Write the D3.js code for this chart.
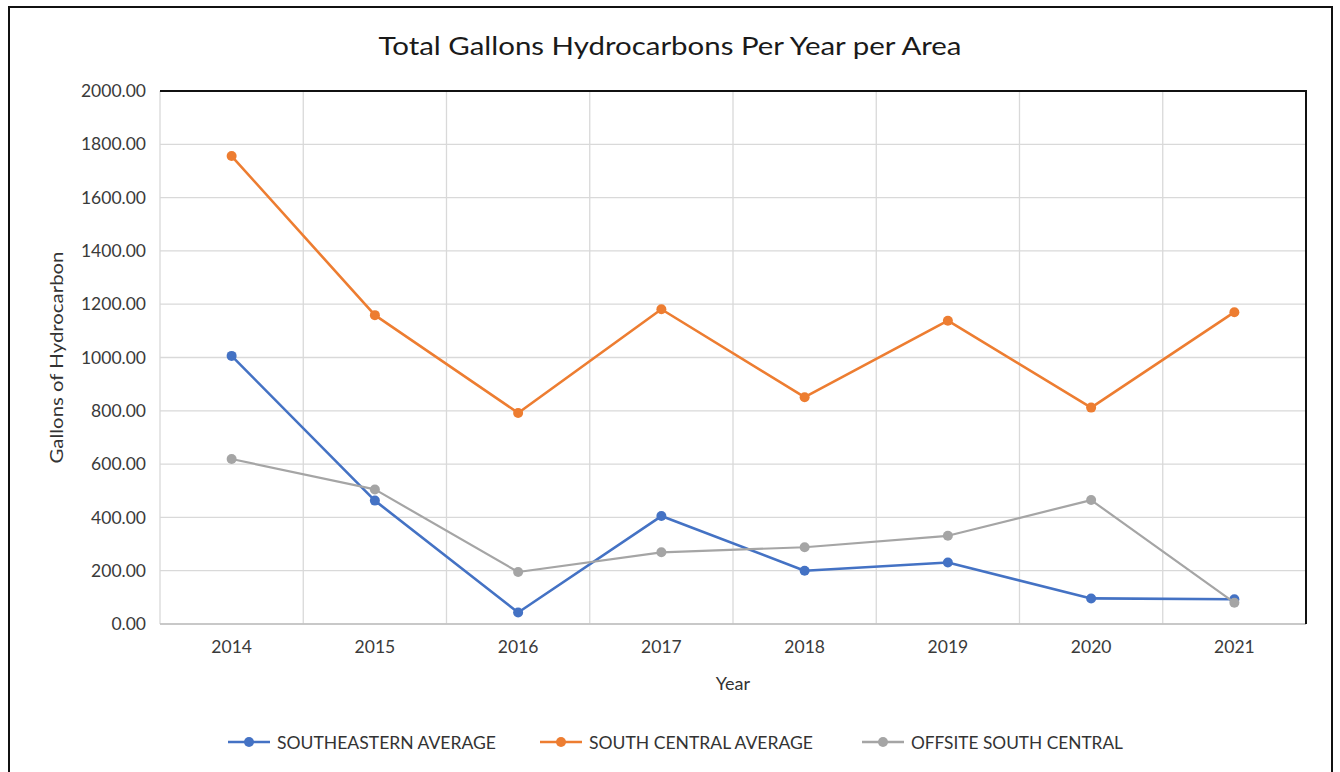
<!DOCTYPE html>
<html lang="en">
<head>
<meta charset="UTF-8">
<title>Total Gallons Hydrocarbons Per Year per Area</title>
<script src="https://cdn.jsdelivr.net/npm/d3@7"></script>
<style>
  html, body { margin: 0; padding: 0; background: #fff; }
  svg { display: block; font-family: Lato, "Open Sans", sans-serif; }
</style>
</head>
<body>
<svg id="chart" width="1340" height="772"></svg>
<script>
// data
var years = ["2014", "2015", "2016", "2017", "2018", "2019", "2020", "2021"];
var southeastern = [1006, 463, 43, 405, 200, 231, 96, 93];
var southCentral = [1756, 1159, 792, 1181, 851, 1138, 812, 1170];
var offsite = [619, 505, 195, 269, 288, 331, 465, 80];
var yTicks = [0, 200, 400, 600, 800, 1000, 1200, 1400, 1600, 1800, 2000];

var seriesNames = ["SOUTHEASTERN AVERAGE", "SOUTH CENTRAL AVERAGE", "OFFSITE SOUTH CENTRAL"];
var seriesValues = [southeastern, southCentral, offsite];
var colors = ["#4472c4", "#ed7d31", "#a5a5a5"];

var W = 1340, H = 772;
var plot = {left: 160, top: 91, right: 1306, bottom: 624};

var svg = d3.select("#chart");

// outer frame
svg.append("rect").attr("x", 0).attr("y", 0).attr("width", W).attr("height", H).attr("fill", "#fff");
svg.append("path")
    .attr("d", "M9,772 L9,7 L1332,7 L1332,772")
    .attr("fill", "none").attr("stroke", "#111").attr("stroke-width", 2);

var x = d3.scaleBand().domain(years).range([plot.left, plot.right]).padding(0);
var y = d3.scaleLinear().domain([0, 2000]).range([plot.bottom, plot.top]);

// horizontal grid
svg.append("g").selectAll("line").data(yTicks).enter().append("line")
    .attr("x1", plot.left).attr("x2", plot.right)
    .attr("y1", function (d) { return y(d); })
    .attr("y2", function (d) { return y(d); })
    .attr("stroke", "#d9d9d9").attr("stroke-width", 1.3);

// vertical grid at category boundaries
var bounds = years.map(function (d) { return x(d); }).concat([plot.right]);
svg.append("g").selectAll("line").data(bounds).enter().append("line")
    .attr("x1", function (d) { return d; }).attr("x2", function (d) { return d; })
    .attr("y1", plot.top).attr("y2", plot.bottom)
    .attr("stroke", "#d9d9d9").attr("stroke-width", 1.3);

// axis lines: bottom gray, top and right black
svg.append("line").attr("x1", plot.left).attr("x2", plot.right)
    .attr("y1", plot.bottom).attr("y2", plot.bottom)
    .attr("stroke", "#bfbfbf").attr("stroke-width", 1.5);
svg.append("path")
    .attr("d", "M" + plot.left + "," + plot.top + " L" + plot.right + "," + plot.top + " L" + plot.right + "," + plot.bottom)
    .attr("fill", "none").attr("stroke", "#111").attr("stroke-width", 2);

// y axis labels
var yAxis = d3.axisLeft(y).tickValues(yTicks).tickSize(0).tickPadding(14)
    .tickFormat(d3.format(".2f"));
var gy = svg.append("g").attr("transform", "translate(" + plot.left + ",0)").call(yAxis);
gy.select(".domain").remove();
gy.selectAll("text").attr("font-family", "Lato, sans-serif").attr("font-size", 17.5).attr("fill", "#3a3a3a");

// x axis labels
var xAxis = d3.axisBottom(x).tickSize(0).tickPadding(17);
var gx = svg.append("g").attr("transform", "translate(0," + plot.bottom + ")").call(xAxis);
gx.select(".domain").remove();
gx.selectAll("text").attr("font-family", "Lato, sans-serif").attr("font-size", 17.5).attr("fill", "#3a3a3a");

// titles
svg.append("text").attr("x", 670).attr("y", 55).attr("text-anchor", "middle")
    .attr("font-size", 25).attr("fill", "#1a1a1a")
    .attr("textLength", 583).attr("lengthAdjust", "spacingAndGlyphs")
    .text("Total Gallons Hydrocarbons Per Year per Area");

svg.append("text").attr("x", 733).attr("y", 690).attr("text-anchor", "middle")
    .attr("font-size", 18).attr("fill", "#333")
    .text("Year");

svg.append("text")
    .attr("transform", "translate(63," + ((plot.top + plot.bottom) / 2) + ") rotate(-90)")
    .attr("text-anchor", "middle")
    .attr("font-size", 17.5).attr("fill", "#333")
    .attr("textLength", 212).attr("lengthAdjust", "spacingAndGlyphs")
    .text("Gallons of Hydrocarbon");

// series
var line = d3.line()
    .x(function (d, i) { return x(years[i]) + x.bandwidth() / 2; })
    .y(function (d) { return y(d); });

seriesValues.forEach(function (vals, s) {
    var g = svg.append("g");
    g.append("path").datum(vals)
        .attr("d", line)
        .attr("fill", "none")
        .attr("stroke", colors[s])
        .attr("stroke-width", s === 2 ? 2.2 : 2.6)
        .attr("stroke-linejoin", "round");
    g.selectAll("circle").data(vals).enter().append("circle")
        .attr("cx", function (d, i) { return x(years[i]) + x.bandwidth() / 2; })
        .attr("cy", function (d) { return y(d); })
        .attr("r", 5)
        .attr("fill", colors[s]);
});

// legend
var legendX = [228, 540, 862];
var legendW = [219, 224, 212];
var legend = svg.append("g").selectAll("g").data(seriesNames).enter().append("g")
    .attr("transform", function (d, i) { return "translate(" + legendX[i] + ",742)"; });
legend.append("line").attr("x1", 0).attr("x2", 42).attr("y1", 0).attr("y2", 0)
    .attr("stroke", function (d, i) { return colors[i]; }).attr("stroke-width", 2.6);
legend.append("circle").attr("cx", 21).attr("cy", 0).attr("r", 5)
    .attr("fill", function (d, i) { return colors[i]; });
legend.append("text").attr("x", 49).attr("y", 6.5)
    .attr("font-size", 17).attr("fill", "#333")
    .attr("textLength", function (d, i) { return legendW[i]; })
    .attr("lengthAdjust", "spacingAndGlyphs")
    .text(function (d) { return d; });
</script>
</body>
</html>
